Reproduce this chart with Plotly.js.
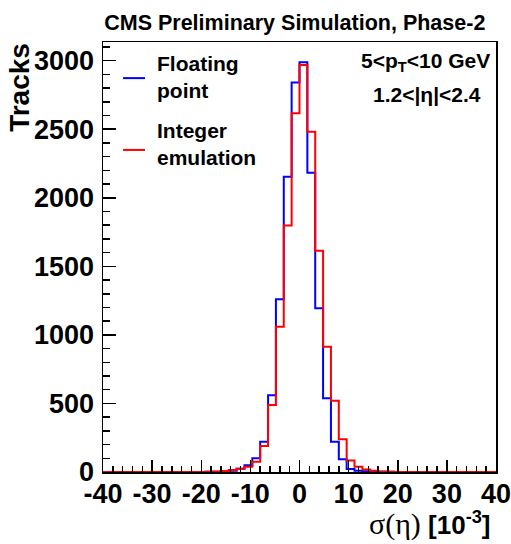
<!DOCTYPE html>
<html>
<head>
<meta charset="utf-8">
<script src="https://cdn.plot.ly/plotly-3.0.1.min.js"></script>
<style>html,body{margin:0;padding:0;background:#fff;}</style>
</head>
<body>
<div id="chart" style="width:511px;height:544px;"></div>
<script>
// Histogram: 50 bins of width 1.6 from -40 to 40 (units of 10^-3)
const binLow = -40;
const binWidth = 1.6;
const nBins = 50;

const floatingPoint = [
  0,0,0,0,0,0,0,0,0,0,0,0,0,
  1,2,4,10,24,50,100,221,559,1260,2154,2840,
  2988,2183,1194,538,221,93,22,10,6,3,1,1,
  0,0,0,0,0,0,0,0,0,0,0,0,0
];
const integerEmulation = [
  0,0,0,0,0,0,0,0,0,0,0,0,0,
  2,3,7,15,24,39,75,190,489,1060,1797,2616,
  2969,2482,1614,914,520,238,83,39,19,10,4,2,
  0,0,0,0,0,0,0,0,0,0,0,0,0
];

const xTickVals = [-40,-30,-20,-10,0,10,20,30,40];
const xTickText = ["-40","-30","-20","-10","0","10","20","30","40"];

const seriesNames = ["Floating point", "Integer emulation"];

// bin edges and step-outline y values (last value repeated for 'hv' shape)
const edges = [];
for (let i = 0; i <= nBins; i++) edges.push(+(binLow + i*binWidth).toFixed(4));
function stepY(arr){ return arr.concat([arr[arr.length-1]]); }

const FONT = "Liberation Sans, Arial, Helvetica, sans-serif";

const traces = [
  {x: edges, y: stepY(floatingPoint), type:'scatter', mode:'lines',
   line:{shape:'hv', color:'#0000ff', width:2}, name: seriesNames[0], showlegend:false},
  {x: edges, y: stepY(integerEmulation), type:'scatter', mode:'lines',
   line:{shape:'hv', color:'#ff0000', width:2}, name: seriesNames[1], showlegend:false}
];

const layout = {
  width:511, height:544,
  margin:{l:103, r:15, t:42, b:72, pad:0},
  paper_bgcolor:'#fff', plot_bgcolor:'#fff',
  font:{family:FONT, color:'#000', weight:'bold'},
  title:{text:'CMS Preliminary Simulation, Phase-2', xref:'paper', x:0.488, xanchor:'center',
         yref:'container', y:1-22/544, yanchor:'middle',
         font:{family:FONT, size:21.5, weight:'bold', color:'#000'}},
  xaxis:{range:[-40,40], tickmode:'array', tickvals:xTickVals, ticktext:xTickText,
         ticks:'inside', ticklen:12, tickwidth:1.5, tickcolor:'#000',
         showline:true, mirror:true, linecolor:'#000', linewidth:1.5,
         showgrid:false, zeroline:false,
         tickfont:{family:FONT, size:27, weight:'bold', color:'#000'},
         ticklabelstandoff:-3, ticklabeloverflow:'allow',
         minor:{dtick:2, tick0:0, ticks:'inside', ticklen:6, tickwidth:1.5, tickcolor:'#000', showgrid:false}},
  yaxis:{range:[0,3136], tickmode:'linear', tick0:0, dtick:500,
         ticks:'inside', ticklen:13, tickwidth:1.5, tickcolor:'#000',
         showline:true, mirror:true, linecolor:'#000', linewidth:1.5,
         showgrid:false, zeroline:false,
         tickfont:{family:FONT, size:27, weight:'bold', color:'#000'},
         ticklabelstandoff:2, ticklabeloverflow:'allow',
         minor:{dtick:100, ticks:'inside', ticklen:6.5, tickwidth:1.5, tickcolor:'#000', showgrid:false}},
  shapes:[
    {type:'line', xref:'paper', yref:'paper', x0:0.051, x1:0.107, y0:0.916, y1:0.916,
     line:{color:'#0000ff', width:2}},
    {type:'line', xref:'paper', yref:'paper', x0:0.051, x1:0.107, y0:0.749, y1:0.749,
     line:{color:'#ff0000', width:2}}
  ],
  annotations:[
    {text:'Floating<br>point', xref:'paper', yref:'paper', x:0.132, y:0.919,
     xanchor:'left', yanchor:'middle', align:'left', showarrow:false,
     font:{family:FONT, size:21, weight:'bold', color:'#000'}},
    {text:'Integer<br>emulation', xref:'paper', yref:'paper', x:0.132, y:0.762,
     xanchor:'left', yanchor:'middle', align:'left', showarrow:false,
     font:{family:FONT, size:21, weight:'bold', color:'#000'}},
    {text:'5&lt;p<sub>T</sub>&lt;10 GeV', xref:'paper', yref:'paper', x:0.99, y:0.953,
     xanchor:'right', yanchor:'middle', showarrow:false,
     font:{family:FONT, size:21, weight:'bold', color:'#000'}},
    {text:'1.2&lt;|η|&lt;2.4', xref:'paper', yref:'paper', x:0.967, y:0.877,
     xanchor:'right', yanchor:'middle', showarrow:false,
     font:{family:FONT, size:21, weight:'bold', color:'#000'}},
    {text:'<span style="font-family:Liberation Serif, DejaVu Serif, serif;font-weight:normal;font-size:30px">σ(η)</span> [10<sup>-3</sup>]',
     xref:'paper', yref:'paper', x:0.992, y:-0.121,
     xanchor:'right', yanchor:'middle', showarrow:false,
     font:{family:FONT, size:26, weight:'bold', color:'#000'}},
    {text:'Tracks', xref:'paper', yref:'paper', x:-0.213, y:0.894, textangle:-90,
     xanchor:'center', yanchor:'middle', showarrow:false,
     font:{family:FONT, size:28, weight:'bold', color:'#000'}}
  ]
};

Plotly.newPlot('chart', traces, layout, {displayModeBar:false, staticPlot:true});
</script>
</body>
</html>
